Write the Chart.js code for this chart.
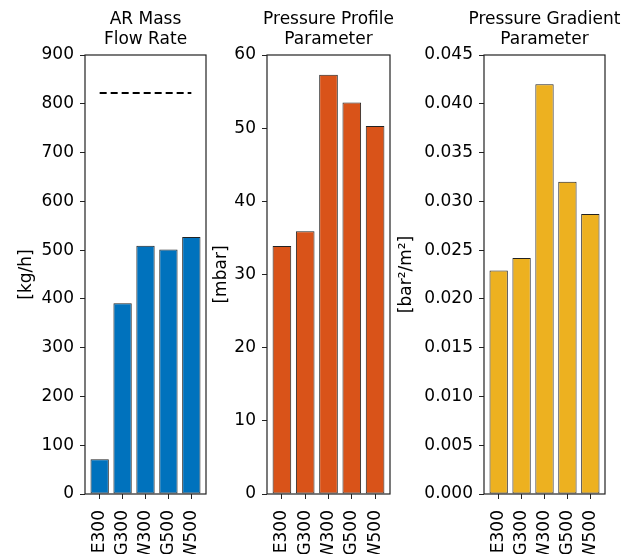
<!DOCTYPE html>
<html>
<head>
<meta charset="utf-8">
<script src="https://cdn.jsdelivr.net/npm/chart.js@4/dist/chart.umd.min.js"></script>
<style>
    html, body { margin: 0; padding: 0; background: #fff; overflow: hidden; }
    #wrap { position: relative; width: 641px; height: 554px; overflow: hidden; }
    canvas { position: absolute; top: 0; }
</style>
</head>
<body>
<div id="wrap">
    <canvas id="massChart"></canvas>
    <canvas id="profileChart"></canvas>
    <canvas id="gradientChart"></canvas>
</div>
<script>
const categories = ['E300', 'G300', 'W300', 'G500', 'W500'];

const massFlow = [71, 391, 509, 501, 527];
const massFlowLimit = 822;
const profileParam = [33.9, 35.9, 57.3, 53.5, 50.3];
const gradientParam = [0.0229, 0.0242, 0.0420, 0.0320, 0.0287];

const massTicks = [0, 100, 200, 300, 400, 500, 600, 700, 800, 900];
const profileTicks = [0, 10, 20, 30, 40, 50, 60];
const gradientTicks = [0, 0.005, 0.010, 0.015, 0.020, 0.025, 0.030, 0.035, 0.040, 0.045];

(function(){
    'use strict';

    const FONT = 'DejaVu Sans';
    const DARK = '#222';
    const PAD_RIGHT = 30;

    // box around the plot area plus a title centred over it (matplotlib style)
    function framePlugin(titleLines) {
        return {
            id: 'frame',
            afterDraw(chart) {
                const a = chart.chartArea;
                const c = chart.ctx;
                c.save();
                c.strokeStyle = DARK;
                c.lineWidth = 1.2;
                c.strokeRect(a.left, a.top, a.right - a.left, a.bottom - a.top);

                c.fillStyle = '#000';
                c.font = '17px "' + FONT + '"';
                c.textAlign = 'center';
                c.textBaseline = 'middle';
                const cx = (a.left + a.right) / 2;
                titleLines.forEach((line, i) => {
                    c.fillText(line, cx, 20 + i * 20);
                });
                c.restore();
            }
        };
    }

    function makeChart(id, opts) {
        const canvas = document.querySelector('#' + id);
        canvas.width = opts.plotRight + PAD_RIGHT - opts.left;
        canvas.height = 554;
        canvas.style.left = opts.left + 'px';

        const datasets = [{
            type: 'bar',
            data: opts.values.map((v, i) => ({x: i, y: v})),
            backgroundColor: opts.color,
            borderColor: '#222',
            borderWidth: 1,
            borderSkipped: false,
            categoryPercentage: 1,
            barPercentage: 0.8
        }];
        if (opts.limit !== undefined) {
            datasets.push({
                type: 'line',
                data: [{x: 0, y: opts.limit}, {x: categories.length - 1, y: opts.limit}],
                borderColor: '#000',
                borderWidth: 2,
                borderDash: [7, 4],
                pointRadius: 0,
                fill: false
            });
        }

        new Chart(canvas, {
            type: 'bar',
            data: { datasets: datasets },
            options: {
                responsive: false,
                animation: false,
                devicePixelRatio: 1,
                layout: { padding: { top: 55, right: PAD_RIGHT, bottom: 0, left: 0 } },
                plugins: {
                    legend: { display: false },
                    tooltip: { enabled: false },
                    title: { display: false }
                },
                scales: {
                    x: {
                        type: 'linear',
                        min: -0.64,
                        max: categories.length - 1 + 0.64,
                        offset: false,
                        afterBuildTicks: s => { s.ticks = categories.map((c, i) => ({value: i})); },
                        afterFit: s => { s.height = 60; },
                        border: { display: false },
                        grid: { offset: false, drawOnChartArea: false, tickLength: 5, color: DARK },
                        ticks: {
                            autoSkip: false,
                            minRotation: 90,
                            maxRotation: 90,
                            padding: 11,
                            color: '#000',
                            font: { family: FONT, size: 17 },
                            callback: v => categories[Math.round(v)]
                        }
                    },
                    y: {
                        min: 0,
                        max: opts.ticks[opts.ticks.length - 1],
                        afterBuildTicks: s => { s.ticks = opts.ticks.map(t => ({value: t})); },
                        afterFit: s => { s.width = opts.axisWidth; },
                        border: { display: false },
                        grid: { drawOnChartArea: false, tickLength: 5, color: DARK },
                        title: {
                            display: true,
                            text: opts.unit,
                            color: '#000',
                            padding: 0,
                            font: { family: FONT, size: 17, lineHeight: 1.2 }
                        },
                        ticks: {
                            padding: 6,
                            color: '#000',
                            font: { family: FONT, size: 17 },
                            callback: v => opts.fmt(v)
                        }
                    }
                }
            },
            plugins: [framePlugin(opts.title)]
        });
    }

    makeChart('massChart', {
        left: 16, plotRight: 206, axisWidth: 69,
        title: ['AR Mass', 'Flow Rate'], unit: '[kg/h]',
        values: massFlow, limit: massFlowLimit, ticks: massTicks,
        color: '#0072BD', fmt: v => String(v)
    });

    makeChart('profileChart', {
        left: 211, plotRight: 390, axisWidth: 56,
        title: ['Pressure Profile', 'Parameter'], unit: '[mbar]',
        values: profileParam, ticks: profileTicks,
        color: '#D95319', fmt: v => String(v)
    });

    makeChart('gradientChart', {
        left: 396, plotRight: 605, axisWidth: 88,
        title: ['Pressure Gradient', 'Parameter'], unit: '[bar²/m²]',
        values: gradientParam, ticks: gradientTicks,
        color: '#EDB120', fmt: v => v.toFixed(3)
    });
})();
</script>
</body>
</html>
